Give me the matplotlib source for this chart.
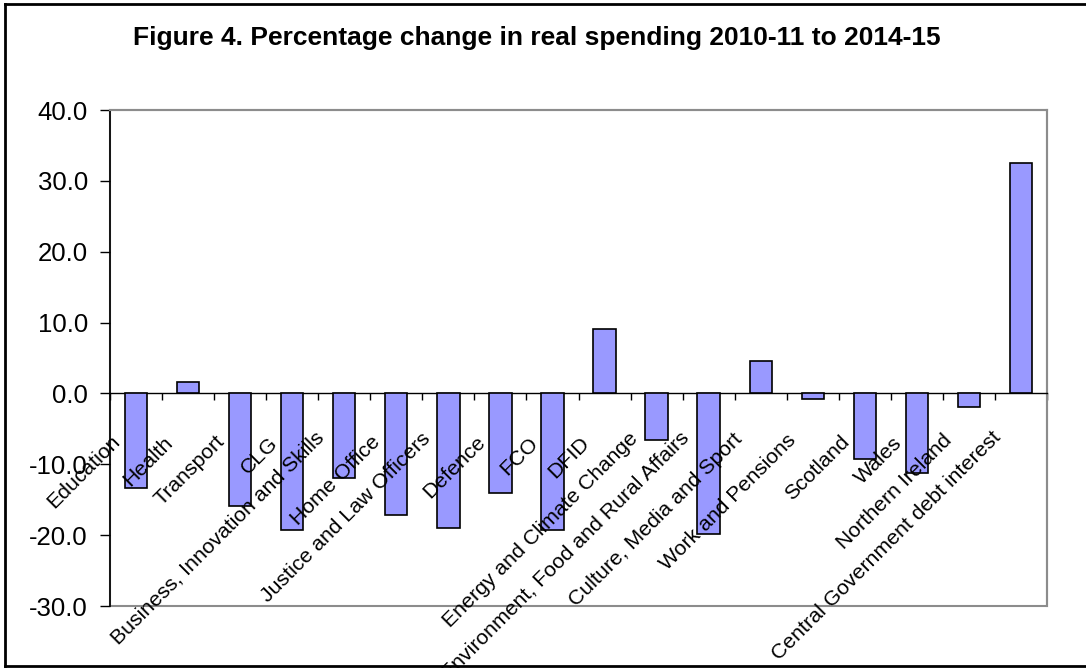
import matplotlib
matplotlib.use("Agg")
import matplotlib.pyplot as plt
from matplotlib.lines import Line2D
from matplotlib.patches import Rectangle
import numpy as np

categories = [
    "Education", "Health", "Transport", "CLG",
    "Business, Innovation and Skills", "Home Office",
    "Justice and Law Officers", "Defence", "FCO", "DFID",
    "Energy and Climate Change", "Environment, Food and Rural Affairs",
    "Culture, Media and Sport", "Work and Pensions", "Scotland", "Wales",
    "Northern Ireland", "Central Government debt interest",
]
values = [-13.3, 1.6, -15.9, -19.3, -12.0, -17.1, -19.0, -14.1, -19.3,
          9.1, -6.6, -19.8, 4.6, -0.8, -9.2, -11.3, -1.9, 32.5]
yticks = [-30, -20, -10, 0, 10, 20, 30, 40]
title = "Figure 4. Percentage change in real spending 2010-11 to 2014-15"

plt.rcParams['font.family'] = ['Liberation Sans', 'DejaVu Sans']

W, H = 1086, 668
fig = plt.figure(figsize=(W / 100, H / 100), dpi=100)
ax = fig.add_axes([110 / W, 1 - 606 / H, (1047 - 110) / W, (606 - 110) / H])

x = np.arange(len(categories))
ax.bar(x, values, width=0.43, color="#9999FF", edgecolor="black",
       linewidth=1.2, zorder=3)

ax.set_xlim(-0.5, len(categories) - 0.5)
ax.set_ylim(-30, 40)
ax.set_yticks(yticks)
ax.set_yticklabels([f"{v:.1f}" for v in yticks], fontsize=18.5)
ax.tick_params(axis='y', direction='out', length=7, width=1, pad=9,
               color='black')

# x axis at zero with boundary ticks
ax.spines['bottom'].set_position(('data', 0))
ax.spines['bottom'].set_color('black')
ax.spines['bottom'].set_linewidth(1)
ax.set_xticks(np.arange(len(categories) + 1) - 0.5)
ax.set_xticklabels([])
ax.tick_params(axis='x', direction='out', length=5, width=1, color='black')

ax.spines['left'].set_color('black')
ax.spines['left'].set_linewidth(1.2)
ax.spines['top'].set_color('#8c8c8c')
ax.spines['top'].set_linewidth(1.5)
ax.spines['right'].set_color('#8c8c8c')
ax.spines['right'].set_linewidth(1.5)

# bottom border of plot area
ax.add_patch(Rectangle((0, 0), 1, 1, transform=ax.transAxes, fill=False,
                       edgecolor='#8c8c8c', linewidth=1.5, zorder=1,
                       clip_on=False))

# category labels, rotated 45 degrees, ending just left of each bar
PT = 0.72  # points per pixel at 100 dpi
for i, lab in enumerate(categories):
    k = min(1.0, len(lab) / 32.0)
    dx = -13 - 6 * k
    dy = -51 + 6 * k
    ax.annotate(lab, xy=(i, 0), xytext=(dx * PT, dy * PT),
                textcoords='offset points', rotation=45,
                rotation_mode='anchor', ha='right', va='baseline',
                fontsize=15.3, annotation_clip=False, zorder=5)

fig.text(537 / W, 1 - 45.5 / H, title, ha='center', va='baseline',
         fontsize=19, fontweight='bold')

# outer frame (top, left, bottom)
fig.add_artist(Line2D([5 / W, 5 / W], [1 - 4 / H, 1 - 666 / H],
                      transform=fig.transFigure, color='black', linewidth=2))
fig.add_artist(Line2D([5 / W, 1], [1 - 4 / H, 1 - 4 / H],
                      transform=fig.transFigure, color='black', linewidth=2))
fig.add_artist(Line2D([5 / W, 1], [1 - 666 / H, 1 - 666 / H],
                      transform=fig.transFigure, color='black', linewidth=2))

fig.savefig("out.png", dpi=100)
